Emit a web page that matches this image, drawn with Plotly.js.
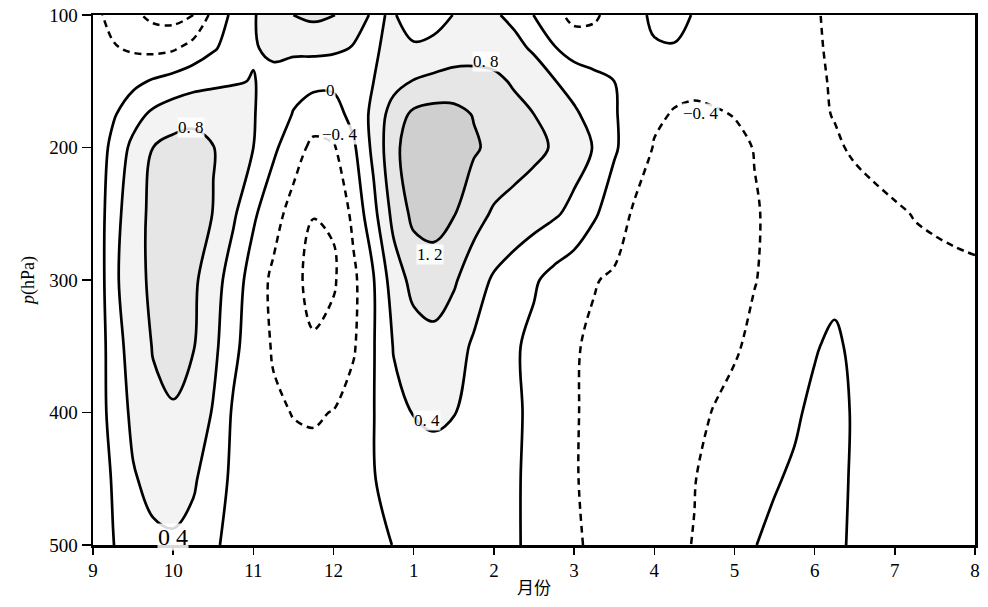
<!DOCTYPE html>
<html>
<head>
<meta charset="utf-8">
<script src="https://cdn.plot.ly/plotly-3.0.1.min.js"></script>
<style>html,body{margin:0;padding:0;background:#fff;}#chart{width:988px;height:607px;}</style>
</head>
<body>
<div id="chart"></div>
<script>
// Month tick labels (Sep .. Aug) and their axis positions
const monthLabels = ['9','10','11','12','1','2','3','4','5','6','7','8'];
const monthTicks = [0,1,2,3,4,5,6,7,8,9,10,11];
// grid positions along time axis (month index)
const timeGrid = [0,0.25,0.5,0.75,1,1.25,1.5,1.75,2,2.25,2.5,2.75,3,3.25,3.5,3.75,4,4.25,4.5,4.75,5,5.25,5.5,5.75,6,6.25,6.5,6.75,7,7.25,7.5,7.75,8,8.25,8.5,8.75,9,9.25,9.5,9.75,10,10.25,10.5,10.75,11];
// pressure levels (hPa)
const pressure = [100,125,150,175,200,250,300,350,400,450,500];
const pressureTicks = [100,200,300,400,500];

// values, one row per pressure level
const p100 = [-0.3,-0.51,-0.72,-0.9,-0.95,-0.8,-0.28,0.09,0.37,0.59,0.8,0.88,0.82,0.53,0.36,0.43,0.2,0.25,0.41,0.45,0.44,0.32,-0.01,-0.3,-0.5,-0.45,-0.28,-0.1,0.06,0.1,-0.02,-0.06,-0.1,-0.15,-0.2,-0.28,-0.37,-0.47,-0.55,-0.6,-0.65,-0.68,-0.7,-0.72,-0.73];
const p125 = [-0.3,-0.37,-0.45,-0.5,-0.45,-0.25,-0.04,0.15,0.38,0.45,0.5,0.5,0.47,0.38,0.37,0.47,0.45,0.5,0.6,0.62,0.6,0.5,0.35,0.03,-0.2,-0.25,-0.2,-0.1,-0.03,-0.02,-0.08,-0.12,-0.15,-0.2,-0.25,-0.3,-0.37,-0.44,-0.5,-0.55,-0.6,-0.63,-0.65,-0.67,-0.68];
const p150 = [-0.3,-0.2,-0.1,0.04,0.15,0.25,0.32,0.38,0.41,0.33,0.12,0.1,0.08,0.15,0.4,0.65,0.82,0.9,0.95,0.95,0.9,0.75,0.6,0.42,0.28,0.13,0.0,-0.15,-0.28,-0.32,-0.33,-0.3,-0.25,-0.2,-0.22,-0.28,-0.35,-0.43,-0.5,-0.55,-0.59,-0.62,-0.64,-0.65,-0.66];
const p175 = [-0.38,-0.05,0.25,0.48,0.62,0.7,0.68,0.55,0.42,0.22,-0.02,-0.2,-0.15,0.12,0.5,1.0,1.28,1.35,1.32,1.18,1.05,0.93,0.8,0.62,0.45,0.28,0.03,-0.15,-0.35,-0.42,-0.45,-0.43,-0.39,-0.33,-0.3,-0.32,-0.36,-0.41,-0.47,-0.52,-0.56,-0.59,-0.61,-0.62,-0.63];
const p200 = [-0.35,0.12,0.5,0.8,0.92,0.93,0.81,0.6,0.4,0.07,-0.22,-0.5,-0.44,-0.06,0.5,1.1,1.42,1.5,1.45,1.25,1.1,1.0,0.9,0.76,0.57,0.38,0.05,-0.2,-0.42,-0.5,-0.53,-0.52,-0.47,-0.39,-0.33,-0.3,-0.33,-0.37,-0.43,-0.48,-0.52,-0.55,-0.57,-0.58,-0.58];
const p250 = [-0.35,0.25,0.62,0.9,1.0,0.98,0.79,0.46,0.06,-0.25,-0.55,-0.79,-0.76,-0.3,0.29,0.92,1.3,1.35,1.22,0.95,0.75,0.65,0.55,0.45,0.3,0.05,-0.2,-0.45,-0.55,-0.6,-0.6,-0.57,-0.5,-0.42,-0.35,-0.3,-0.28,-0.28,-0.3,-0.33,-0.37,-0.41,-0.43,-0.44,-0.45];
const p300 = [-0.39,0.3,0.65,0.88,0.95,0.87,0.58,0.2,-0.18,-0.48,-0.7,-0.92,-0.85,-0.48,-0.02,0.6,0.92,1.0,0.85,0.58,0.35,0.2,0.05,-0.13,-0.25,-0.38,-0.45,-0.5,-0.53,-0.54,-0.53,-0.5,-0.46,-0.41,-0.33,-0.2,-0.18,-0.12,-0.15,-0.2,-0.27,-0.32,-0.34,-0.36,-0.37];
const p350 = [-0.38,0.22,0.56,0.82,0.88,0.82,0.5,0.1,-0.22,-0.43,-0.6,-0.76,-0.65,-0.44,-0.02,0.42,0.62,0.68,0.55,0.35,0.2,0.05,-0.1,-0.25,-0.37,-0.46,-0.52,-0.55,-0.56,-0.55,-0.52,-0.47,-0.43,-0.34,-0.25,-0.15,-0.03,0.08,-0.1,-0.22,-0.28,-0.32,-0.33,-0.34,-0.35];
const p400 = [-0.3,0.15,0.48,0.72,0.78,0.65,0.37,-0.05,-0.25,-0.35,-0.41,-0.43,-0.39,-0.25,-0.01,0.3,0.41,0.44,0.41,0.3,0.18,0.06,-0.08,-0.22,-0.38,-0.46,-0.5,-0.52,-0.52,-0.5,-0.45,-0.39,-0.32,-0.22,-0.13,-0.05,0.08,0.15,-0.05,-0.17,-0.23,-0.27,-0.28,-0.29,-0.3];
const p450 = [-0.25,0.03,0.37,0.5,0.55,0.45,0.2,-0.08,-0.2,-0.26,-0.3,-0.3,-0.27,-0.2,-0.02,0.18,0.27,0.3,0.28,0.22,0.14,0.05,-0.1,-0.25,-0.38,-0.47,-0.52,-0.53,-0.52,-0.47,-0.41,-0.3,-0.2,-0.1,-0.03,0.05,0.15,0.13,-0.06,-0.14,-0.2,-0.23,-0.25,-0.26,-0.27];
const p500 = [-0.15,-0.01,0.2,0.33,0.35,0.28,0.05,-0.1,-0.17,-0.21,-0.23,-0.23,-0.22,-0.18,-0.1,0.01,0.12,0.18,0.2,0.18,0.12,0.04,-0.08,-0.22,-0.36,-0.45,-0.5,-0.5,-0.48,-0.45,-0.39,-0.28,-0.15,-0.01,0.08,0.13,0.17,0.08,-0.06,-0.12,-0.16,-0.18,-0.2,-0.2,-0.21];

const zGrid = [p100,p125,p150,p175,p200,p250,p300,p350,p400,p450,p500];

// contour labels as drawn in the figure
const labelText = ['0. 8','0','\u22120. 4','0. 8','1. 2','0. 4','\u22120. 4','0 4'];
const labelTime = [1.22,2.96,3.08,4.9,4.2,4.17,7.58,1.0];
const labelPres = [185,157,190,135,281,406,174,494];
const labelSize = [17,17,17,17,17,17,17,24];

const smooth = 1.0;
const black = [[0,'#000'],[1,'#000']];

const shade = {
  type:'contour', x: timeGrid, y: pressure, z: zGrid,
  autocontour:false,
  contours:{start:0.4,end:1.2,size:0.4,coloring:'fill',showlines:false},
  zmin:0, zmax:1.6,
  colorscale:[[0,'#ffffff'],[0.25,'#ffffff'],[0.25,'#f3f3f3'],[0.5,'#f3f3f3'],[0.5,'#e6e6e6'],[0.75,'#e6e6e6'],[0.75,'#cfcfcf'],[1,'#cfcfcf']],
  line:{width:0,smoothing:smooth},
  showscale:false, hoverinfo:'skip'
};
const solid = {
  type:'contour', x: timeGrid, y: pressure, z: zGrid,
  autocontour:false,
  contours:{start:0,end:1.2,size:0.4,coloring:'lines'},
  colorscale:black, line:{width:2.7,smoothing:smooth},
  showscale:false, hoverinfo:'skip'
};
const dashed = {
  type:'contour', x: timeGrid, y: pressure, z: zGrid,
  autocontour:false,
  contours:{start:-0.8,end:-0.4,size:0.4,coloring:'lines'},
  colorscale:black, line:{width:2.5,smoothing:smooth,dash:'7px,5px'},
  showscale:false, hoverinfo:'skip'
};

const serif = 'Liberation Serif, DejaVu Serif, serif';
const annotations = labelText.map((t,i)=>({
  x: labelTime[i], y: labelPres[i], xref:'x', yref:'y', text:t, showarrow:false,
  font:{family:serif, size:labelSize[i], color:'#000'},
  bgcolor:'rgba(255,255,255,0.85)', borderpad:0
}));

const layout = {
  width:988, height:607,
  margin:{l:93,r:13,t:15,b:62},
  paper_bgcolor:'#fff', plot_bgcolor:'#fff',
  showlegend:false,
  xaxis:{
    range:[0,11], tickvals:monthTicks, ticktext:monthLabels,
    ticks:'outside', ticklen:7, tickwidth:1.5, tickcolor:'#000',
    showline:true, linewidth:2.5, linecolor:'#000', mirror:true,
    showgrid:false, zeroline:false,
    tickfont:{family:serif,size:19,color:'#000'},
    title:{text:'月份',font:{family:'Noto Sans CJK SC, sans-serif',size:17,color:'#000'},standoff:2}
  },
  yaxis:{
    range:[500,100], tickvals:pressureTicks,
    ticks:'outside', ticklen:9, tickwidth:1.5, tickcolor:'#000',
    showline:true, linewidth:2.5, linecolor:'#000', mirror:true,
    showgrid:false, zeroline:false,
    tickfont:{family:serif,size:19,color:'#000'},
    title:{text:'<i>p</i>(hPa)',font:{family:serif,size:18,color:'#000'},standoff:10}
  },
  annotations: annotations
};

Plotly.newPlot('chart',[shade,solid,dashed],layout,{staticPlot:true,displayModeBar:false});
</script>
</body>
</html>
